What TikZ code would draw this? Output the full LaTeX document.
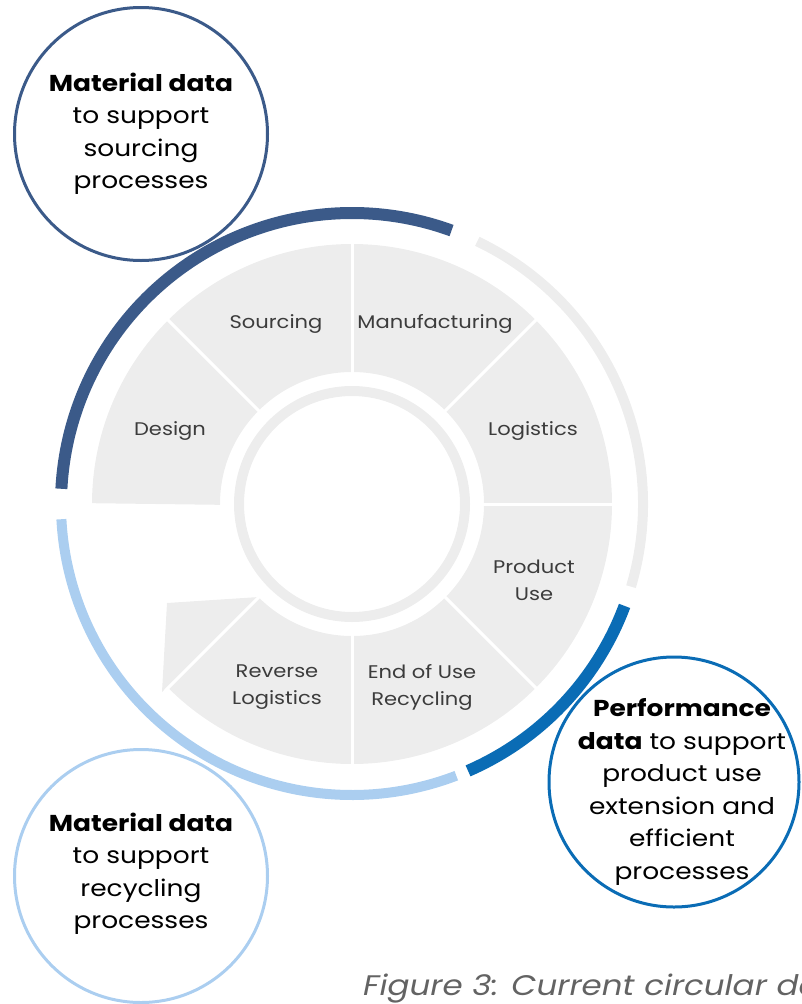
\documentclass[tikz,border=0pt]{standalone}
\usepackage{fontspec}
\setmainfont[FakeStretch=1.15]{Poppins}
\definecolor{wheelgray}{HTML}{EDEDED}
\definecolor{srcblue}{HTML}{3B5A89}
\definecolor{useblue}{HTML}{0A6CB5}
\definecolor{recblue}{HTML}{ABCEF0}
\definecolor{labelgray}{HTML}{3C3C3C}

\begin{document}
\begin{tikzpicture}[x=1pt, y=1pt,
  stage/.style={text=labelgray, align=center, font=\fontsize{18.3}{27}\selectfont},
  datacircle/.style={circle, draw, line width=3pt, minimum size=253pt, inner sep=0pt},
  datatext/.style={align=center, font=\fontsize{23}{32.5}\selectfont}]
  \useasboundingbox (0,0) rectangle (801,-1004);
  \clip (0,0) rectangle (801,-1004);
  % data circles
  \node[datacircle, draw=srcblue](md1) at (141,-134) {};
  \node[datacircle, draw=recblue](md2) at (141,-876) {};
  \node[datacircle, draw=useblue, minimum size=250pt](pd) at (674,-782) {};
  \node[datatext](md1t) at (md1) {\textbf{Material data}\\to support\\sourcing\\processes};
  \node[datatext](md2t) at ([yshift=2]md2) {\textbf{Material data}\\to support\\recycling\\processes};
  \node[datatext](pdt) at ([shift={(8,-10)}]pd) {\textbf{Performance}\\\textbf{data} to support\\product use\\extension and\\efficient\\processes};
  % wheel
  \coordinate(hub) at (352,-504);
  \draw[line width=128pt, wheelgray] (hub) ++(180:196) arc[start angle=180, end angle=-135, radius=196];
  \fill[wheelgray] (167,-603) -- (259,-597) -- (162,-692) -- cycle;
  \foreach \a in {135,90,...,-135}
    \draw[white, line width=3pt] (hub) ++(\a:128) -- ++(\a:136);
  \draw[line width=10pt, wheelgray] (hub) circle[radius=113];
  % outer ring
  \draw[line width=12pt, srcblue] (hub) ++(177:291) arc[start angle=177, end angle=70, radius=291];
  \draw[line width=10pt, wheelgray] (hub) ++(64.5:291) arc[start angle=64.5, end angle=-16.5, radius=291];
  \draw[line width=12pt, useblue] (hub) ++(-20.5:291) arc[start angle=-20.5, end angle=-66.5, radius=291];
  \draw[line width=10pt, recblue] (hub) ++(-69:291) arc[start angle=-69, end angle=-177, radius=291];
  % stages
  \node[stage](des) at (170,-431) {Design};
  \node[stage](src) at (276,-324) {Sourcing};
  \node[stage](man) at (435,-324) {Manufacturing};
  \node[stage](log) at (533,-431) {Logistics};
  \node[stage](use) at (534,-580) {Product\\Use};
  \node[stage](eol) at (422,-687) {End of Use\\Recycling};
  \node[stage](rev) at (277,-687) {Reverse\\Logistics};
  % caption
  \node[anchor=base west, inner sep=0pt, text=labelgray!80, font=\fontsize{28.3}{34}\selectfont\itshape](cap) at (363,-995) {Figure 3: Current circular da};
\end{tikzpicture}
\end{document}
